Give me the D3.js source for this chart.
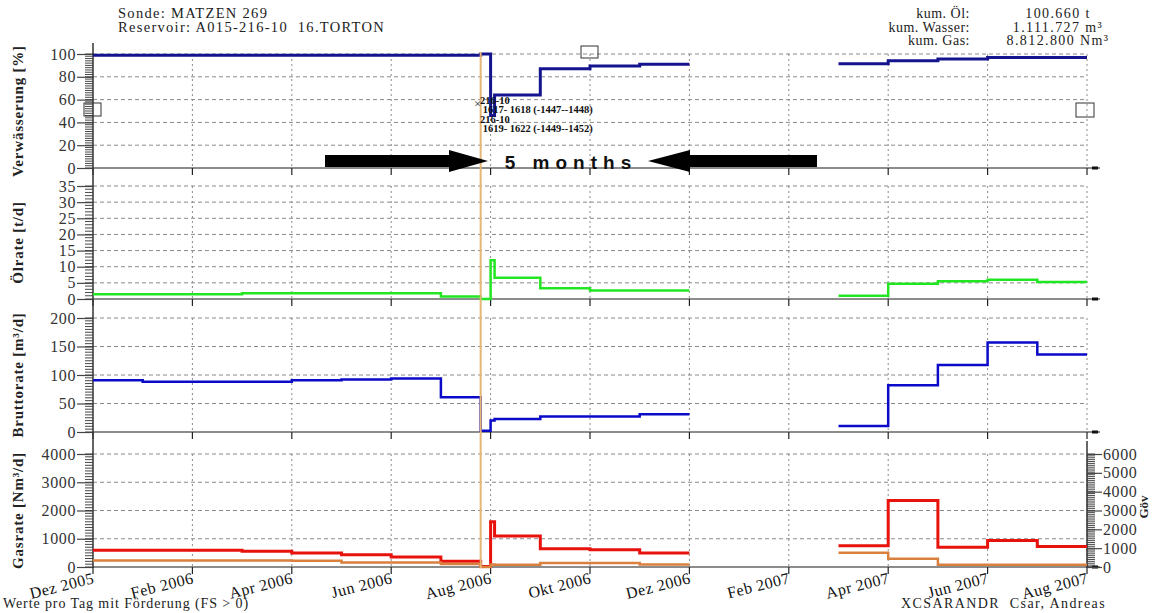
<!DOCTYPE html>
<html><head><meta charset="utf-8">
<script src="https://cdn.jsdelivr.net/npm/d3@7"></script>
<style>body{margin:0;background:#fff}svg{display:block}text{font-family:'Liberation Serif','Times New Roman',serif}</style>
</head><body>
<script>
// ---------- DATA ----------
const monthLabels = ["Dez 2005","Feb 2006","Apr 2006","Jun 2006","Aug 2006","Okt 2006","Dez 2006","Feb 2007","Apr 2007","Jun 2007","Aug 2007"];
const monthTicks = [0,2,4,6,8,10,12,14,16,18,20];
// step start positions (month index from Dez 2005); value holds until next start
const stepStart = [0,1,2,3,4,5,6,7,7.8,8,8.08,9,10,11,12,15,16,17,18,19,20];
const waterCut  = [99,99,99,99,99,99,99,99,100,46,64,87,89.5,91,null,91.5,94,95.6,97,97];
const oilRate   = [1.5,1.5,1.5,1.8,1.8,1.8,1.8,0.8,0,12,6.6,3.3,2.6,2.6,null,1,4.7,5.5,6,5.3];
const grossRate = [91,88,88,88,91,92,94,61,2,20,23,27,27,31,null,10.5,82,117.5,157,136];
const gasRate   = [590,590,590,560,500,435,354,200,20,1600,1100,650,610,495,null,750,2350,700,940,730];
const gor       = [350,350,350,350,330,245,245,160,0,130,122,212,212,138,null,760,440,120,120,120];
const titleLines = ["Sonde: MATZEN 269","Reservoir: A015-216-10  16.TORTON"];
const cumLabels = ["kum. Öl:","kum. Wasser:","kum. Gas:"];
const cumValues = ["100.660 t","1.111.727 m³","8.812.800 Nm³"];
const annotLines = ["216-10"," 1617- 1618 (-1447--1448)","216-10"," 1619- 1622 (-1449--1452)"];

// ---------- SETUP ----------
const W=1156,H=613;
const svg=d3.select("body").append("svg").attr("width",W).attr("height",H);
const x=d3.scaleLinear().domain([0,20]).range([93,1087]);
const axisX0=93, axisXEnd=1100;

const panels=[
 {key:"wc", data:waterCut, dom:[0,100], rng:[168,54], ticks:[0,20,40,60,80,100], minor:2, color:"#14148f", w:3, title:"Verwässerung [%]"},
 {key:"oil", data:oilRate, dom:[0,35], rng:[299,186], ticks:[0,5,10,15,20,25,30,35], minor:1, color:"#22e622", w:2.5, title:"Ölrate [t/d]"},
 {key:"gross", data:grossRate, dom:[0,200], rng:[432,318], ticks:[0,50,100,150,200], minor:5, color:"#0a0ac8", w:2.5, title:"Bruttorate [m³/d]"},
 {key:"gas", data:gasRate, dom:[0,4000], rng:[567,454], ticks:[0,1000,2000,3000,4000], minor:100, color:"#e8120c", w:3, title:"Gasrate [Nm³/d]"}
];
panels.forEach(p=>p.y=d3.scaleLinear().domain(p.dom).range(p.rng));

function stepPath(vals,ys){
  let d="",pen=false;
  vals.forEach((v,i)=>{
    if(v==null){pen=false;return;}
    const xa=x(stepStart[i]),xb=x(stepStart[i+1]),yy=ys(v);
    d+= (pen? "L":"M")+xa+","+yy+"L"+xb+","+yy;
    pen=true;
  });
  return d;
}

// ---------- GRID & AXES ----------
panels.forEach(p=>{
  const g=svg.append("g");
  const top=p.rng[1], bot=p.rng[0];
  p.ticks.filter(t=>t>0).forEach(t=>{
    g.append("line").attr("x1",axisX0).attr("x2",x(20)).attr("y1",p.y(t)).attr("y2",p.y(t))
     .attr("stroke","#8a8a8a").attr("stroke-width",1).attr("stroke-dasharray","4,3");
  });
  monthTicks.filter(t=>t>0).forEach(t=>{
    g.append("line").attr("x1",x(t)).attr("x2",x(t)).attr("y1",top).attr("y2",bot)
     .attr("stroke","#8a8a8a").attr("stroke-width",1).attr("stroke-dasharray","2,3");
  });
  g.append("line").attr("x1",axisX0).attr("x2",axisXEnd).attr("y1",bot).attr("y2",bot)
   .attr("stroke","#666").attr("stroke-width",1.5);
  g.append("rect").attr("x",1092).attr("y",bot-1.5).attr("width",6).attr("height",3).attr("fill","#111");
  monthTicks.forEach(t=>{
    g.append("line").attr("x1",x(t)).attr("x2",x(t)).attr("y1",bot).attr("y2",bot+7)
     .attr("stroke","#222").attr("stroke-width",1.2);
  });
  const minorVals=d3.range(p.dom[0],p.dom[1]+1e-9,p.minor);
  g.selectAll(null).data(minorVals).join("line")
   .attr("x1",85).attr("x2",93).attr("y1",d=>p.y(d)).attr("y2",d=>p.y(d))
   .attr("stroke","#333").attr("stroke-width",0.9);
  const ax=d3.axisLeft(p.y).tickValues(p.ticks).tickSize(16).tickPadding(1).tickFormat(d3.format("d"));
  const axg=svg.append("g").attr("transform",`translate(93,0)`).call(ax);
  axg.select(".domain").remove();
  axg.selectAll(".tick line").attr("stroke","#444").attr("stroke-width",1.2);
  axg.selectAll(".tick text").attr("font-size",16).attr("fill","#333").attr("letter-spacing",0.6);
  svg.append("text").attr("transform",`translate(23,${(top+bot)/2}) rotate(-90)`)
   .attr("text-anchor","middle").attr("font-size",15).attr("font-weight","bold").attr("fill","#222")
   .attr("letter-spacing",0.8).text(p.title);
});
svg.append("line").attr("x1",93).attr("x2",93).attr("y1",43).attr("y2",568).attr("stroke","#333").attr("stroke-width",1.5);

// right axis for Göv
const yR=d3.scaleLinear().domain([0,6000]).range([567,454]);
svg.append("line").attr("x1",1087).attr("x2",1087).attr("y1",441).attr("y2",568).attr("stroke","#333").attr("stroke-width",1.5);
svg.append("g").selectAll(null).data(d3.range(0,6001,100)).join("line")
  .attr("x1",1087).attr("x2",1095).attr("y1",d=>yR(d)).attr("y2",d=>yR(d)).attr("stroke","#333").attr("stroke-width",0.9);
const axR=svg.append("g").attr("transform","translate(1087,0)")
  .call(d3.axisRight(yR).tickValues([0,1000,2000,3000,4000,5000,6000]).tickSize(15).tickPadding(1).tickFormat(d3.format("d")));
axR.select(".domain").remove();
axR.selectAll(".tick line").attr("stroke","#444").attr("stroke-width",1.2);
axR.selectAll(".tick text").attr("font-size",16).attr("fill","#333").attr("letter-spacing",0.6);
svg.append("text").attr("transform","translate(1148,507) rotate(-90)").attr("text-anchor","middle")
  .attr("font-size",13).attr("font-weight","bold").attr("fill","#222").text("Göv");

// bottom x labels
svg.append("g").selectAll(null).data(monthTicks).join("text")
  .attr("transform",(d,i)=>`translate(${x(d)+2},${583}) rotate(-14)`)
  .attr("text-anchor","end").attr("font-size",16).attr("letter-spacing",0.5).attr("fill","#111")
  .text((d,i)=>monthLabels[i]);

// ---------- SERIES ----------
panels.forEach(p=>{
  svg.append("path").attr("d",stepPath(p.data,p.y)).attr("fill","none")
   .attr("stroke",p.color).attr("stroke-width",p.w).attr("stroke-linejoin","miter");
});
svg.append("path").attr("d",stepPath(gor,yR)).attr("fill","none")
  .attr("stroke","#d9803e").attr("stroke-width",2.5);

svg.append("line").attr("x1",x(7.8)).attr("x2",x(7.8)).attr("y1",52).attr("y2",568)
  .attr("stroke","#e6b676").attr("stroke-width",2);

// ---------- ANNOTATIONS ----------
[[84,103,17,13],[581,46,17,12],[1076,103,18,14]].forEach(r=>{
  svg.append("rect").attr("x",r[0]).attr("y",r[1]).attr("width",r[2]).attr("height",r[3])
   .attr("fill","none").attr("stroke","#333").attr("stroke-width",1);
});
svg.append("text").attr("x",474).attr("y",108).attr("font-size",13).attr("fill","#333").text("×");
svg.append("g").selectAll(null).data(annotLines).join("text")
  .attr("x",480).attr("y",(d,i)=>104+i*9.3).attr("font-size",10.5).attr("font-weight","bold").attr("fill","#111")
  .attr("xml:space","preserve").style("white-space","pre").text(d=>d);

const ay=161;
svg.append("path").attr("d",`M325,${ay-6}L449,${ay-6}L449,${ay-11}L488,${ay}L449,${ay+11}L449,${ay+6}L325,${ay+6}Z`).attr("fill","#000");
svg.append("path").attr("d",`M817,${ay-6}L690,${ay-6}L690,${ay-11}L648,${ay}L690,${ay+11}L690,${ay+6}L817,${ay+6}Z`).attr("fill","#000");
svg.append("text").attr("x",571).attr("y",169).attr("text-anchor","middle")
  .attr("font-size",19).attr("font-weight","bold").attr("letter-spacing",6)
  .style("font-family","'Liberation Sans',Arial,sans-serif").attr("fill","#111").text("5 months");

// header
svg.append("g").selectAll(null).data(titleLines).join("text")
  .attr("x",118).attr("y",(d,i)=>18+i*14).attr("font-size",14.5).attr("letter-spacing",1.3).attr("fill","#222")
  .attr("xml:space","preserve").style("white-space","pre").text(d=>d);
svg.append("g").selectAll(null).data(cumLabels).join("text")
  .attr("x",970).attr("y",(d,i)=>18+i*13.5).attr("text-anchor","end").attr("font-size",14).attr("letter-spacing",0.5).attr("fill","#222").text(d=>d);
svg.append("g").selectAll(null).data(cumValues).join("text")
  .attr("x",1058).attr("y",(d,i)=>18+i*13.5).attr("text-anchor","middle").attr("font-size",14).attr("letter-spacing",1.4).attr("fill","#222").text(d=>d);

// footer
svg.append("text").attr("x",3).attr("y",608).attr("font-size",14).attr("letter-spacing",0.9).attr("fill","#222").text("Werte pro Tag mit Förderung (FS > 0)");
svg.append("text").attr("x",1106).attr("y",608).attr("text-anchor","end").attr("font-size",14).attr("letter-spacing",1.4).attr("fill","#222")
  .attr("xml:space","preserve").style("white-space","pre").text("XCSARANDR  Csar, Andreas");
</script>
</body></html>
